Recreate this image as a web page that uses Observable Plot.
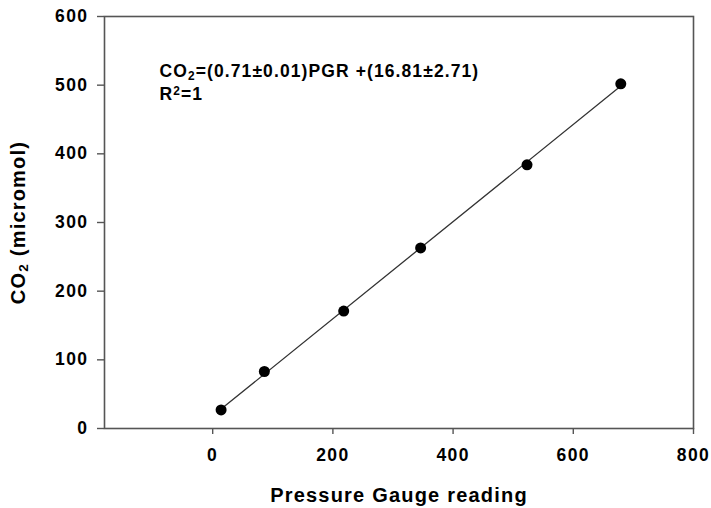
<!DOCTYPE html>
<html>
<head>
<meta charset="utf-8">
<script src="https://cdn.jsdelivr.net/npm/d3@7"></script>
<script src="https://cdn.jsdelivr.net/npm/@observablehq/plot@0.6"></script>
<style>
  html, body { margin: 0; padding: 0; background: #fff; }
  #chart { width: 711px; height: 508px; }
</style>
</head>
<body>
<div id="chart"></div>
<script>
// Data
const pressureReading = [14, 86, 218, 346, 523, 679];
const co2Micromol = [27, 83, 171, 263, 384, 502];
const xTicks = [0, 200, 400, 600, 800];
const yTicks = [0, 100, 200, 300, 400, 500, 600];
const equationText = "CO₂=(0.71±0.01)PGR +(16.81±2.71)\nR²=1";
const xLabel = "Pressure Gauge reading";
const yLabel = "CO₂ (micromol)";

const data = pressureReading.map((x, i) => ({x, y: co2Micromol[i]}));

const chart = Plot.plot({
  width: 711,
  height: 508,
  marginLeft: 104,
  marginRight: 18,
  marginTop: 16,
  marginBottom: 80,
  style: {fontFamily: "'Liberation Sans', Arial, sans-serif", fontWeight: "bold", background: "#fff"},
  x: {domain: [-180, 800]},
  y: {domain: [0, 600]},
  marks: [
    Plot.frame({stroke: "#555", strokeWidth: 1.6}),
    Plot.axisX({ticks: xTicks, tickSize: 6, tickPadding: 14, fontSize: 17.5, stroke: "#555", strokeWidth: 1.4,
      label: xLabel, labelAnchor: "center", labelArrow: "none", labelOffset: 73}),
    Plot.axisY({ticks: yTicks, tickSize: 7, tickPadding: 9, fontSize: 17.5, stroke: "#555", strokeWidth: 1.4,
      label: yLabel, labelAnchor: "center", labelArrow: "none", labelOffset: 94}),
    Plot.linearRegressionY(data, {x: "x", y: "y", ci: 0, stroke: "#333", strokeWidth: 1.3}),
    Plot.dot(data, {x: "x", y: "y", r: 5.5, fill: "black", stroke: "none"}),
    Plot.text([equationText], {frameAnchor: "top-left", dx: 55, dy: 45, textAnchor: "start", lineAnchor: "top",
      fontSize: 17.5, fontWeight: "bold", lineHeight: 1.27, fill: "black"})
  ]
});

const root = d3.select(chart);
// tick labels: numeric texts (reference glyphs are large and wide)
root.selectAll("text").filter(function() { return /^-?\d+$/.test(this.textContent.trim()); })
  .style("font-size", "17.5px").style("letter-spacing", "1.4px").style("font-weight", "bold");
// axis titles
root.selectAll("text").filter(function() {
  const t = this.textContent;
  return t.startsWith("Pressure") || t.indexOf("micromol") >= 0;
}).style("font-size", "20px").style("letter-spacing", "1.2px");
// equation text
root.selectAll("text").filter(function() { return this.textContent.indexOf("PGR") >= 0; })
  .style("letter-spacing", "1.1px");

function scriptify(node0) {
  const walker = document.createTreeWalker(node0, NodeFilter.SHOW_TEXT);
  const nodes = [];
  while (walker.nextNode()) nodes.push(walker.currentNode);
  for (const node of nodes) {
    const s = node.nodeValue;
    if (!/[₂²]/.test(s)) continue;
    const parent = node.parentNode;
    const frag = document.createDocumentFragment();
    let buf = "";
    for (const ch of s) {
      if (ch === "₂" || ch === "²") {
        if (buf) { frag.appendChild(document.createTextNode(buf)); buf = ""; }
        const t = document.createElementNS("http://www.w3.org/2000/svg", "tspan");
        t.setAttribute("font-size", "0.68em");
        t.setAttribute("baseline-shift", ch === "₂" ? "-22%" : "40%");
        t.textContent = "2";
        frag.appendChild(t);
      } else buf += ch;
    }
    if (buf) frag.appendChild(document.createTextNode(buf));
    parent.replaceChild(frag, node);
  }
}
scriptify(chart);
document.getElementById("chart").appendChild(chart);
</script>
</body>
</html>
